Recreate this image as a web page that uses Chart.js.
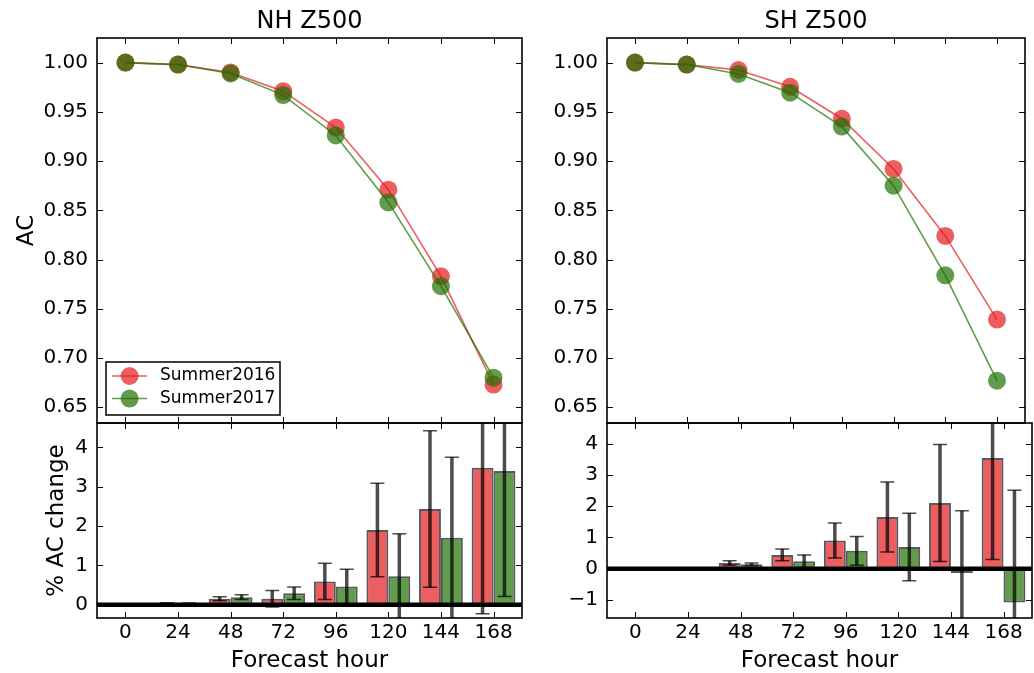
<!DOCTYPE html>
<html lang="en"><head>
<meta charset="utf-8">
<title>Z500 anomaly correlation</title>
<script src="https://cdn.jsdelivr.net/npm/chart.js@4"></script>
<style>
*{margin:0;padding:0}
body{background:#fff;width:1034px;height:673px;overflow:hidden;position:relative}
canvas{position:absolute;left:0;top:0}
</style></head><body>
<canvas id="nh-ac" width="1034" height="673"></canvas>
<canvas id="nh-pct" width="1034" height="673"></canvas>
<canvas id="sh-ac" width="1034" height="673"></canvas>
<canvas id="sh-pct" width="1034" height="673"></canvas>
<script>
// forecast lead times (hours)
const hours=[0,24,48,72,96,120,144,168];
const seasons=['Summer2016','Summer2017'];

// anomaly correlation
const nhAc2016=[1.000,0.998,0.990,0.971,0.934,0.871,0.783,0.673];
const nhAc2017=[1.000,0.998,0.989,0.967,0.926,0.858,0.773,0.680];
const shAc2016=[1.000,0.998,0.9925,0.9755,0.943,0.892,0.824,0.739];
const shAc2017=[1.000,0.998,0.9885,0.9695,0.935,0.875,0.784,0.677];

// % AC change and its uncertainty
const nhPct2016=[0,0.04,0.15,0.15,0.59,1.90,2.43,3.48];
const nhErr2016=[0,0.01,0.05,0.21,0.46,1.19,1.99,3.71];
const nhPct2017=[0,0.03,0.19,0.29,0.46,0.72,1.70,3.40];
const nhErr2017=[0,0.01,0.06,0.16,0.44,1.08,2.05,3.19];
const shPct2016=[0,0,0.18,0.44,0.90,1.65,2.10,3.54];
const shErr2016=[0,0,0.07,0.19,0.56,1.12,1.87,3.25];
const shPct2017=[0,0,0.14,0.24,0.57,0.69,-0.14,-1.08];
const shErr2017=[0,0,0.04,0.20,0.46,1.08,1.99,3.59];

// tick values
const acTicks=[0.65,0.70,0.75,0.80,0.85,0.90,0.95,1.00];
const nhPctTicks=[0,1,2,3,4];
const shPctTicks=[-1,0,1,2,3,4];

const W=1034,H=673;
const red='rgba(228,26,28,0.7)',green='rgba(30,112,0,0.7)';
Chart.defaults.font.family='"DejaVu Sans", sans-serif';
Chart.defaults.color='#000';

const NH={left:97,right:522}, SH={left:607,right:1032};
const topRow={top:38,bottom:423}, botRow={top:423,bottom:618};

const minus=v=>String(v).replace('-','\u2212');

// axes box with inward ticks on all four sides
function frame(xt,yt){
  return {id:'frame',afterDraw(chart){
    const {ctx,chartArea:a,scales:{x,y}}=chart;
    ctx.save();
    ctx.strokeStyle='#000';ctx.lineWidth=1;
    ctx.beginPath();
    xt.forEach(v=>{const p=Math.round(x.getPixelForValue(v))+0.5;
      ctx.moveTo(p,a.top);ctx.lineTo(p,a.top+6);ctx.moveTo(p,a.bottom);ctx.lineTo(p,a.bottom-6);});
    yt.forEach(v=>{const p=Math.round(y.getPixelForValue(v))+0.5;
      ctx.moveTo(a.left,p);ctx.lineTo(a.left+6,p);ctx.moveTo(a.right,p);ctx.lineTo(a.right-6,p);});
    ctx.stroke();
    ctx.lineWidth=1.6;
    ctx.strokeRect(a.left,a.top,a.right-a.left,a.bottom-a.top);
    ctx.restore();
  }};
}

// error bars on each bar, then the heavy zero line
function errorBars(errs){
  return {id:'errorBars',afterDatasetsDraw(chart){
    const {ctx,chartArea:a,scales:{y}}=chart;
    ctx.save();
    ctx.beginPath();ctx.rect(a.left,a.top,a.right-a.left,a.bottom-a.top);ctx.clip();
    ctx.strokeStyle='rgba(0,0,0,0.7)';
    chart.data.datasets.forEach((ds,i)=>{
      chart.getDatasetMeta(i).data.forEach((bar,j)=>{
        const e=errs[i][j];if(!e)return;
        const y1=y.getPixelForValue(ds.data[j]+e),y2=y.getPixelForValue(ds.data[j]-e);
        ctx.lineWidth=3.5;
        ctx.beginPath();ctx.moveTo(bar.x,y1);ctx.lineTo(bar.x,y2);ctx.stroke();
        ctx.lineWidth=1.5;
        ctx.beginPath();
        ctx.moveTo(bar.x-7,y1);ctx.lineTo(bar.x+7,y1);
        ctx.moveTo(bar.x-7,y2);ctx.lineTo(bar.x+7,y2);
        ctx.stroke();
      });
    });
    const y0=y.getPixelForValue(0);
    ctx.strokeStyle='#000';ctx.lineWidth=4.5;
    ctx.beginPath();ctx.moveTo(a.left,y0);ctx.lineTo(a.right,y0);ctx.stroke();
    ctx.restore();
  }};
}

// legend box in the lower left corner of the axes
const insetLegend={id:'insetLegend',afterDraw(chart){
  const {ctx,chartArea:a}=chart;
  const w=174,h=53,x=a.left+9,y=a.bottom-8-h;
  ctx.save();
  ctx.fillStyle='#fff';ctx.fillRect(x,y,w,h);
  ctx.strokeStyle='#000';ctx.lineWidth=1.5;ctx.strokeRect(x,y,w,h);
  chart.data.datasets.forEach((ds,i)=>{
    const cy=y+14+i*22.6;
    ctx.strokeStyle=ds.borderColor;ctx.lineWidth=1.5;
    ctx.beginPath();ctx.moveTo(x+6,cy);ctx.lineTo(x+41,cy);ctx.stroke();
    ctx.fillStyle=ds.pointBackgroundColor;
    ctx.beginPath();ctx.arc(x+23.6,cy,9,0,Math.PI*2);ctx.fill();
    ctx.fillStyle='#000';ctx.font='17px "DejaVu Sans"';ctx.textBaseline='middle';
    ctx.fillText(ds.label,x+54,cy);
  });
  ctx.restore();
}};

function yAxis(min,max,ticks,fmt,width,title,pad){
  return {type:'linear',position:'left',min,max,
    afterFit:s=>{s.width=width},
    afterBuildTicks:s=>{s.ticks=ticks.map(v=>({value:v}))},
    grid:{display:false,drawTicks:false},border:{display:false},
    ticks:{font:{size:20},padding:9,autoSkip:false,callback:fmt},
    title:{display:!!title,text:title||'',font:{size:23},padding:{top:pad||0,bottom:0}}};
}

function lineSet(label,data,color,order){
  return {label,data,order,borderColor:color,borderWidth:1.6,
    pointBackgroundColor:color,pointBorderWidth:0,pointRadius:9,tension:0};
}

function acChart(id,panel,title,a16,a17,withLegend,ytitle){
  const plugins=withLegend?[insetLegend,frame(hours,acTicks)]:[frame(hours,acTicks)];
  new Chart(document.getElementById(id),{type:'line',
    data:{labels:hours,datasets:[lineSet(seasons[0],a16,red,1),lineSet(seasons[1],a17,green,0)]},
    options:{responsive:false,animation:false,events:[],
      layout:{padding:{left:0,top:0,right:W-panel.right,bottom:H-topRow.bottom}},
      plugins:{legend:{display:false},tooltip:{enabled:false},
        title:{display:true,text:title,fullSize:false,color:'#000',
          font:{size:24,weight:'normal'},padding:{top:7.3,bottom:1.9}}},
      scales:{
        x:{type:'linear',min:-13,max:181,display:false,offset:false},
        y:yAxis(0.634,1.025,acTicks,v=>v.toFixed(2),panel.left,ytitle,13.2)}},
    plugins});
}

function pctChart(id,panel,p16,p17,errs,ymin,ymax,yt,ytitle){
  new Chart(document.getElementById(id),{type:'bar',
    data:{labels:hours,datasets:[
      {label:seasons[0],data:p16,backgroundColor:red},
      {label:seasons[1],data:p17,backgroundColor:green}]},
    options:{responsive:false,animation:false,events:[],
      datasets:{bar:{categoryPercentage:20/24,barPercentage:1,borderWidth:2,
        borderColor:'rgba(0,0,0,0.65)',borderSkipped:false}},
      layout:{padding:{left:0,top:botRow.top,right:W-panel.right,bottom:0}},
      plugins:{legend:{display:false},tooltip:{enabled:false}},
      scales:{
        x:{type:'linear',min:-13,max:181,offset:false,
          afterFit:s=>{s.height=H-botRow.bottom},
          afterBuildTicks:s=>{s.ticks=hours.map(v=>({value:v}))},
          grid:{display:false,drawTicks:false},border:{display:false},
          ticks:{font:{size:20},padding:3,autoSkip:false,maxRotation:0,callback:v=>String(v)},
          title:{display:true,text:'Forecast hour',font:{size:23},padding:{top:0,bottom:-2}}},
        y:yAxis(ymin,ymax,yt,minus,panel.left,ytitle,43.2)}},
    plugins:[errorBars(errs),frame(hours,yt)]});
}

acChart('nh-ac',NH,'NH Z500',nhAc2016,nhAc2017,true,'AC');
acChart('sh-ac',SH,'SH Z500',shAc2016,shAc2017,false,null);
pctChart('nh-pct',NH,nhPct2016,nhPct2017,[nhErr2016,nhErr2017],-0.34,4.62,nhPctTicks,'% AC change');
pctChart('sh-pct',SH,shPct2016,shPct2017,[shErr2016,shErr2017],-1.58,4.66,shPctTicks,null);
</script></body></html>
